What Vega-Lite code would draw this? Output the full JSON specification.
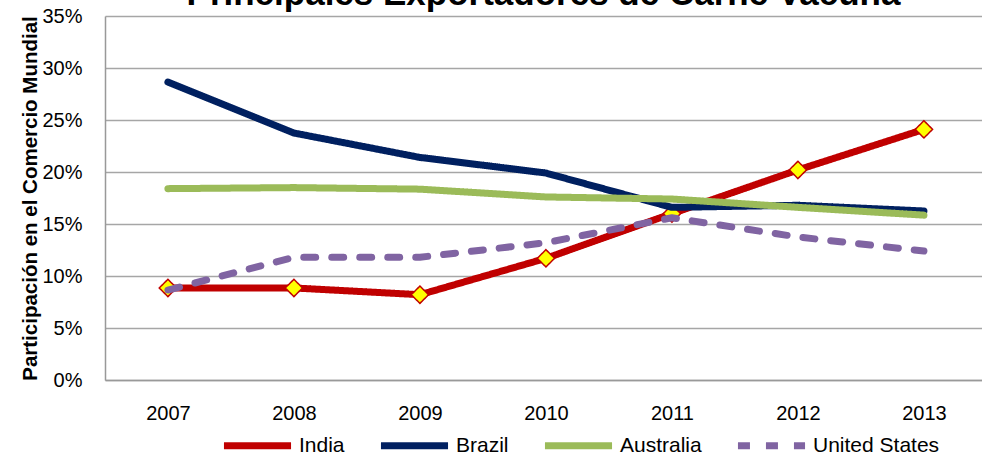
{
  "$schema": "https://vega.github.io/schema/vega-lite/v6.json",
  "autosize": {"type": "none"},
  "width": 877,
  "height": 364,
  "padding": {"left": 105, "top": 16, "right": 0, "bottom": 75},
  "background": "white",
  "config": {
    "font": "Liberation Sans",
    "view": {"stroke": null},
    "title": {"font": "Liberation Sans", "fontSize": 35, "fontWeight": "bold", "color": "#000000", "anchor": "middle"}
  },
  "title": {"text": "Principales Exportadores de Carne Vacuna", "offset": -6},
  "data": {
    "values": [
      {"year": "2007", "country": "India", "share": 0.0885},
      {"year": "2008", "country": "India", "share": 0.0885},
      {"year": "2009", "country": "India", "share": 0.082},
      {"year": "2010", "country": "India", "share": 0.117},
      {"year": "2011", "country": "India", "share": 0.160},
      {"year": "2012", "country": "India", "share": 0.202},
      {"year": "2013", "country": "India", "share": 0.241},
      {"year": "2007", "country": "Brazil", "share": 0.2865},
      {"year": "2008", "country": "Brazil", "share": 0.2375},
      {"year": "2009", "country": "Brazil", "share": 0.214},
      {"year": "2010", "country": "Brazil", "share": 0.199},
      {"year": "2011", "country": "Brazil", "share": 0.166},
      {"year": "2012", "country": "Brazil", "share": 0.168},
      {"year": "2013", "country": "Brazil", "share": 0.1625},
      {"year": "2007", "country": "Australia", "share": 0.184},
      {"year": "2008", "country": "Australia", "share": 0.185},
      {"year": "2009", "country": "Australia", "share": 0.1835},
      {"year": "2010", "country": "Australia", "share": 0.176},
      {"year": "2011", "country": "Australia", "share": 0.174},
      {"year": "2012", "country": "Australia", "share": 0.166},
      {"year": "2013", "country": "Australia", "share": 0.1585},
      {"year": "2007", "country": "United States", "share": 0.0865},
      {"year": "2008", "country": "United States", "share": 0.118},
      {"year": "2009", "country": "United States", "share": 0.118},
      {"year": "2010", "country": "United States", "share": 0.132},
      {"year": "2011", "country": "United States", "share": 0.156},
      {"year": "2012", "country": "United States", "share": 0.1375},
      {"year": "2013", "country": "United States", "share": 0.124}
    ]
  },
  "encoding": {
    "x": {
      "field": "year", "type": "ordinal",
      "scale": {"type": "point", "padding": 0.48, "align": 0.52},
      "axis": {
        "title": null, "labelAngle": 0, "labelFontSize": 20, "labelColor": "#000000",
        "labelPadding": 23, "ticks": false, "grid": false,
        "domainColor": "#999999", "domainWidth": 1.5
      }
    },
    "y": {
      "field": "share", "type": "quantitative",
      "scale": {"domain": [0, 0.35], "nice": false},
      "axis": {
        "title": "Participación en el Comercio Mundial", "titleFontSize": 20.5, "titleFontWeight": "bold",
        "titleColor": "#000000", "titlePadding": 1,
        "format": ".0%", "values": [0, 0.05, 0.1, 0.15, 0.2, 0.25, 0.3, 0.35],
        "labelFontSize": 20, "labelColor": "#000000", "labelPadding": 23, "ticks": false,
        "grid": true, "gridColor": "#a6a6a6", "gridWidth": 1.6,
        "domainColor": "#999999", "domainWidth": 1.5
      }
    },
    "color": {
      "field": "country", "type": "nominal",
      "scale": {"domain": ["India", "Brazil", "Australia", "United States"], "range": ["#C00000", "#002060", "#9BBB59", "#8064A2"]},
      "legend": {
        "title": null, "orient": "none", "legendX": 115, "legendY": 392, "direction": "horizontal",
        "symbolType": "stroke", "symbolSize": 4500, "symbolStrokeWidth": 7,
        "labelFontSize": 21, "labelColor": "#000000", "labelOffset": 4, "columnPadding": 21, "padding": 0
      }
    },
    "strokeDash": {
      "field": "country", "type": "nominal",
      "scale": {"domain": ["India", "Brazil", "Australia", "United States"], "range": [[1, 0], [1, 0], [1, 0], [12, 16]]},
      "legend": {
        "title": null, "orient": "none", "legendX": 115, "legendY": 392, "direction": "horizontal",
        "symbolType": "stroke", "symbolSize": 4500, "symbolStrokeWidth": 7,
        "labelFontSize": 21, "labelColor": "#000000", "labelOffset": 4, "columnPadding": 21, "padding": 0
      }
    }
  },
  "layer": [
    {
      "transform": [{"filter": "datum.country === 'India'"}],
      "mark": {"type": "line", "strokeWidth": 7, "strokeCap": "round", "strokeJoin": "round"}
    },
    {
      "transform": [{"filter": "datum.country === 'India'"}],
      "mark": {"type": "point", "shape": "diamond", "filled": true, "fill": "#FFFF00", "stroke": "#C00000", "strokeWidth": 1.5, "size": 300, "opacity": 1},
      "encoding": {"color": {"value": "#FFFF00"}, "strokeDash": {"value": [1, 0]}}
    },
    {
      "transform": [{"filter": "datum.country !== 'India'"}],
      "mark": {"type": "line", "strokeWidth": 7, "strokeCap": "round", "strokeJoin": "round"}
    }
  ]
}
